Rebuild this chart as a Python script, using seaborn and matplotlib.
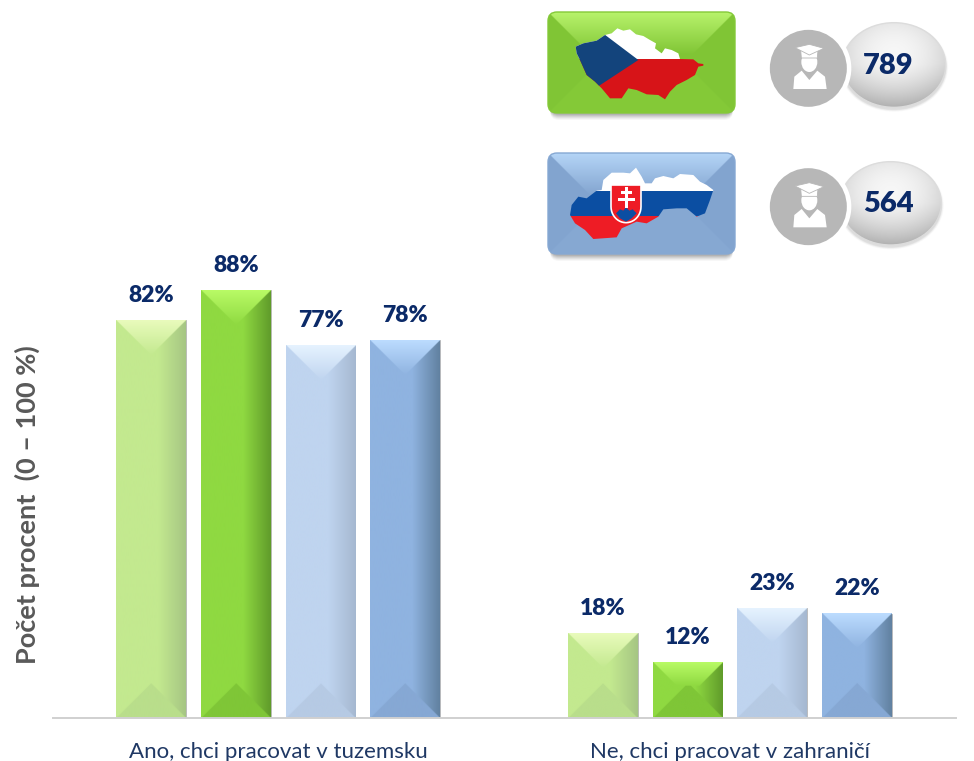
import numpy as np
import pandas as pd
import seaborn as sns
import matplotlib
matplotlib.use("Agg")
import matplotlib.pyplot as plt
from matplotlib.patches import Polygon, Circle, Ellipse, FancyBboxPatch

categories = ["Ano, chci pracovat v tuzemsku", "Ne, chci pracovat v zahraničí"]
series = ["CZ 1", "CZ 2", "SK 1", "SK 2"]
cz_1 = [82.0, 17.5]
cz_2 = [88.2, 11.5]
sk_1 = [76.8, 22.6]
sk_2 = [77.9, 21.5]
counts = ["789", "564"]

NAVY = "#0b2a68"
# base, top, right side, bottom
shades = {
    "CZ 1": ("#c3e98f", "#e9fbbc", "#a5c583", "#b9de8b"),
    "CZ 2": ("#8fd941", "#b9fb66", "#5f9a2a", "#7fc637"),
    "SK 1": ("#bfd4ef", "#e6f3ff", "#a5b8d0", "#b6cae4"),
    "SK 2": ("#8fb3e0", "#bcdcff", "#60809f", "#86a8d4"),
}


def rgb(c):
    return np.array(matplotlib.colors.to_rgb(c))


def bevel(w, h, base, top, side, bottom, side_from=0.6):
    # pyramid-like shading, w and h in pixels
    sc = 2
    xs, ys = np.meshgrid((np.arange(int(w * sc)) + .5) / sc, (np.arange(int(h * sc)) + .5) / sc)
    base, top, side, bottom = rgb(base), rgb(top), rgb(side), rgb(bottom)
    t = np.clip((xs / w - side_from) / (1 - side_from), 0, 1)[..., None]
    img = base * (1 - t) + side * t
    d_side = np.minimum(xs, w - xs)
    ridge = h * 0.42
    is_top = (ys < d_side) & (ys < ridge)
    is_bot = ((h - ys) < d_side) & (ys >= ridge)
    k = np.clip(ys / min(w / 2, ridge), 0, 1)[..., None]
    top_img = top * (1 - k) + base * k
    img = np.where(is_top[..., None], top_img, img)
    img = np.where(is_bot[..., None], bottom, img)
    return img


df = pd.DataFrame({
    "kategorie": np.repeat(categories, len(series)),
    "skupina": series * len(categories),
    "procenta": [cz_1[0], cz_2[0], sk_1[0], sk_2[0], cz_1[1], cz_2[1], sk_1[1], sk_2[1]],
})

sns.set_theme(style="white")
plt.rcParams["font.family"] = ["Lato", "DejaVu Sans"]
fig = plt.figure(figsize=(9.74, 7.61), dpi=100)
ax = fig.add_axes([52.5 / 974, (761 - 718) / 761, 903 / 974, 485 / 761])
sns.barplot(data=df, x="kategorie", y="procenta", hue="skupina", hue_order=series,
            palette=[shades[s][0] for s in series], width=0.75, gap=0.175,
            edgecolor="#b5b5b5", linewidth=0.6, legend=False, ax=ax)
ax.set_ylim(0, 100)
ax.set_autoscale_on(False)
ax.patch.set_alpha(0)

for name, cont in zip(series, ax.containers):
    for bar in cont:
        x0, y0 = bar.get_x(), bar.get_y()
        x1, y1 = x0 + bar.get_width(), y0 + bar.get_height()
        (p0, p1) = ax.transData.transform([(x0, y0), (x1, y1)])
        img = bevel(p1[0] - p0[0], p1[1] - p0[1], *shades[name])
        ax.imshow(img, extent=(x0, x1, y0, y1), aspect="auto", zorder=bar.get_zorder() + 0.1,
                  interpolation="bilinear")
    ax.bar_label(cont, fmt=lambda v: f"{v:.0f}%", padding=10.5, color=NAVY, fontsize=16.5,
                 fontweight="heavy", zorder=6)

ax.set_yticks([])
ax.set_xlabel("")
ax.set_ylabel("Počet procent  (0 – 100 %)", fontsize=19.5, fontweight="bold", color="#595959")
ax.yaxis.set_label_coords(-0.014, (718 - 505) / 485)
ax.tick_params(axis="x", length=0, pad=17.5, labelsize=16, labelcolor="#1f3864")
sns.despine(ax=ax, left=True)
ax.spines["bottom"].set_color("#d0d0d0")
ax.spines["bottom"].set_linewidth(1.4)

# top right legend buttons, pixel space
deco = fig.add_axes([0, 0, 1, 1], zorder=5)
deco.set_xlim(0, 974)
deco.set_ylim(761, 0)
deco.set_autoscale_on(False)
deco.axis("off")


def z(points, dy=0):
    pts = np.array(points, dtype=float)
    return np.column_stack([530 + pts[:, 0] / 3, (pts[:, 1] + dy) / 3])


def button(y0, colors):
    x0, w, h = 548, 187, 101
    for i, a in zip(range(6, 0, -1), [.03, .04, .05, .06, .07, .08]):
        deco.add_patch(FancyBboxPatch((x0 + 2, y0 + 3), w - 4, h + i - 2, zorder=0.1,
                                      boxstyle="round,pad=0,rounding_size=9", fc="black", ec="none", alpha=a))
    im = deco.imshow(bevel(w, h, *colors, side_from=1.0), extent=(x0, x0 + w, y0 + h, y0), aspect="auto",
                     interpolation="bilinear", zorder=0.5)
    box = FancyBboxPatch((x0, y0), w, h, boxstyle="round,pad=0,rounding_size=9", fc="none",
                         ec=colors[3], lw=1, zorder=0.6)
    deco.add_patch(box)
    im.set_clip_path(box)


def clipped_rects(outline, rects):
    clip = Polygon(outline, closed=True, fc="none", ec="none", transform=deco.transData)
    deco.add_patch(clip)
    for pts, col in rects:
        p = Polygon(pts, closed=True, fc=col, ec="none")
        deco.add_patch(p)
        p.set_clip_path(clip)


cz_outline = z([(137, 140), (160, 130), (200, 122), (225, 105), (245, 100), (262, 85), (280, 92), (300, 88),
                (318, 103), (340, 108), (360, 120), (378, 130), (375, 145), (395, 160), (405, 145), (425, 150),
                (445, 160), (450, 177), (490, 178), (505, 190), (520, 192), (520, 197), (505, 200), (495, 225),
                (470, 240), (440, 255), (420, 275), (405, 298), (385, 285), (350, 283), (320, 270), (295, 265),
                (275, 295), (240, 295), (215, 265), (195, 245), (170, 225), (150, 180), (140, 160)])
sk_outline = z([(120, 645), (125, 615), (145, 590), (170, 595), (200, 572), (215, 570), (220, 540), (245, 518),
                (280, 518), (300, 520), (318, 503), (335, 530), (345, 550), (365, 550), (375, 535), (400, 528),
                (430, 535), (450, 522), (490, 525), (510, 545), (530, 555), (550, 570), (540, 600), (525, 640),
                (500, 650), (488, 640), (470, 625), (440, 625), (400, 628), (385, 650), (350, 670), (320, 665),
                (275, 685), (260, 712), (190, 717), (165, 690), (135, 670)])

button(12, ("#80c535", "#b8f36c", "#80c535", "#84c938"))
button(153, ("#82a4cf", "#b5d5f7", "#82a4cf", "#86a8d3"))

clipped_rects(cz_outline, [
    (z([(100, 60), (560, 60), (560, 178), (100, 178)]), "#ffffff"),
    (z([(100, 178), (560, 178), (560, 320), (100, 320)]), "#d71418"),
    (z([(100, 60), (215, 97), (325, 180), (200, 262), (100, 320)]), "#13447c"),
])
clipped_rects(sk_outline, [
    (z([(100, 490), (560, 490), (560, 573), (100, 573)]), "#ffffff"),
    (z([(100, 573), (560, 573), (560, 647), (100, 647)]), "#0b4ea2"),
    (z([(100, 647), (560, 647), (560, 730), (100, 730)]), "#ee1c25"),
])

# Slovak shield
t = np.linspace(0, np.pi / 2, 12)
right = [(288 + 45 * np.cos(a), 620 + 48 * np.sin(a)) for a in t]
left = [(288 - 45 * np.sin(a), 620 + 48 * np.cos(a)) for a in t]
shield = z([(243, 555), (333, 555)] + right + left)
deco.add_patch(Polygon(shield, closed=True, fc="#ee1c25", ec="white", lw=1.2))
hills = z([(258, 640), (270, 628), (280, 632), (288, 622), (298, 632), (308, 628), (320, 640), (305, 655), (288, 665), (270, 655)])
deco.add_patch(Polygon(hills, closed=True, fc="#0b4ea2", ec="none"))
for pts in [[(284, 562), (293, 562), (293, 624), (284, 624)],
            [(272, 574), (305, 574), (305, 582), (272, 582)],
            [(263, 594), (314, 594), (314, 603), (263, 603)]]:
    deco.add_patch(Polygon(z(pts), closed=True, fc="white", ec="none"))


def badge(dy, cx, rx, ry, cy, label):
    # glossy ellipse behind the round icon
    ex, ey = 530 + cx / 3, cy / 3
    for i, a in zip(range(5, 0, -1), [.015, .02, .025, .03, .04]):
        deco.add_patch(Ellipse((ex, ey + 2), 2 * rx / 3 + i, 2 * ry / 3 + i, fc="black", ec="none", alpha=a, zorder=0.1))
    xx, yy = np.meshgrid(np.linspace(-1, 1, 160), np.linspace(-1, 1, 130))
    r = np.sqrt(xx ** 2 + (yy + 0.1) ** 2)
    g = np.clip(0.96 - 0.12 * r ** 2, 0, 1)
    g = g - 0.12 * np.clip(yy, 0, 1) + 0.04 * np.clip(-yy, 0, 1)
    g = np.clip(g, 0, 1)
    im = deco.imshow(np.dstack([g, g, g]), extent=(ex - rx / 3, ex + rx / 3, ey + ry / 3, ey - ry / 3),
                     aspect="auto", interpolation="bilinear", zorder=2)
    el = Ellipse((ex, ey), 2 * rx / 3, 2 * ry / 3, fc="none", ec="#dcdcdc", lw=1, zorder=2)
    deco.add_patch(el)
    im.set_clip_path(el)
    deco.text(530 + 1075 / 3, ey + 1, label, color=NAVY, fontsize=21, fontweight="heavy",
              ha="center", va="center", zorder=5)

    # round icon with a white ring
    c = z([(835, 205)], dy)[0]
    deco.add_patch(Circle(c, 43, fc="white", ec="none", zorder=3))
    deco.add_patch(Circle(c, 38.5, fc="#b7b7b7", ec="none", zorder=3))
    shoulders = [(790, 267), (793, 230), (815, 212), (838, 240), (862, 212), (885, 230), (890, 267)]
    deco.add_patch(Polygon(z(shoulders, dy), closed=True, fc="white", ec="none", zorder=4))
    face = z([(838, 186)], dy)[0]
    deco.add_patch(Ellipse(face, 16, 20, fc="white", ec="none", zorder=4))
    deco.add_patch(Polygon(z([(812, 150), (864, 150), (862, 174), (814, 174)], dy), closed=True,
                           fc="white", ec="#b7b7b7", lw=0.6, zorder=4))
    deco.add_patch(Polygon(z([(795, 143), (838, 133), (882, 145), (838, 165)], dy), closed=True,
                           fc="white", ec="#b7b7b7", lw=0.6, zorder=4))


badge(0, 1092, 155, 127, 195, counts[0])
badge(415, 1082, 152, 125, 610, counts[1])

fig.savefig("out.png", dpi=100)
